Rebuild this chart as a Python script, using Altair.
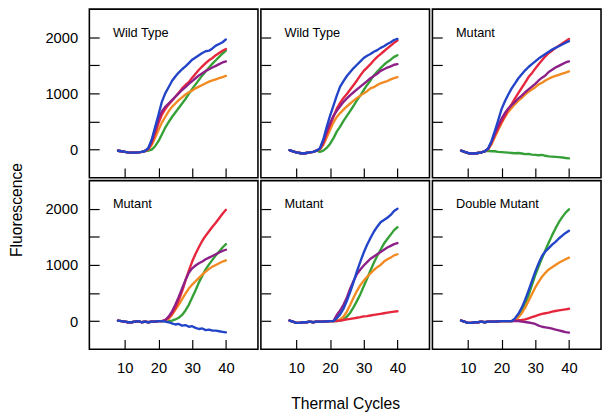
import altair as alt
import pandas as pd

cycles = list(range(8, 41))
panel_titles = ["Wild Type", "Wild Type", "Mutant", "Mutant", "Mutant", "Double Mutant"]
series_order = ["green", "orange", "red", "purple", "blue"]
series_colors = ["#35a036", "#f28a22", "#e6263c", "#8c2088", "#2244c8"]

x_ticks = [10, 20, 30, 40]
y_ticks = [0, 500, 1000, 1500, 2000]

# Panel 1 - Wild Type
p1_base = [-20, -30, -40, -50, -55, -55, -50, -40, -25]
p1_blue = p1_base + [30, 180, 400, 620, 850, 1000, 1110, 1220, 1300, 1370, 1430, 1480, 1540, 1600, 1640, 1680, 1720, 1750, 1760, 1800, 1850, 1880, 1910, 1960]
p1_purple = p1_base + [20, 160, 350, 550, 680, 760, 820, 880, 940, 1000, 1060, 1110, 1170, 1220, 1270, 1320, 1360, 1400, 1430, 1460, 1490, 1520, 1550, 1570]
p1_red = p1_base + [10, 120, 290, 470, 620, 720, 800, 870, 940, 1010, 1090, 1150, 1200, 1280, 1350, 1420, 1480, 1540, 1590, 1630, 1680, 1720, 1760, 1790]
p1_green = p1_base + [-20, 0, 60, 150, 270, 390, 490, 580, 660, 740, 820, 900, 990, 1080, 1160, 1240, 1320, 1390, 1460, 1530, 1590, 1650, 1710, 1760]
p1_orange = p1_base + [0, 80, 210, 350, 480, 580, 680, 760, 820, 880, 930, 980, 1020, 1050, 1090, 1120, 1150, 1180, 1210, 1230, 1250, 1270, 1290, 1310]

# Panel 2 - Wild Type
p2_base = [-10, -30, -50, -60, -70, -60, -50, -40, -20]
p2_blue = p2_base + [20, 180, 400, 600, 780, 960, 1120, 1220, 1310, 1380, 1450, 1510, 1570, 1630, 1670, 1700, 1740, 1770, 1810, 1840, 1880, 1910, 1950, 1970]
p2_red = p2_base + [10, 110, 280, 430, 580, 730, 830, 920, 990, 1070, 1150, 1230, 1320, 1400, 1460, 1520, 1590, 1650, 1700, 1750, 1800, 1850, 1900, 1940]
p2_green = p2_base + [-40, -20, 30, 100, 200, 320, 410, 510, 600, 690, 780, 880, 960, 1060, 1150, 1230, 1320, 1390, 1450, 1510, 1560, 1600, 1650, 1680]
p2_purple = p2_base + [20, 150, 330, 470, 600, 690, 770, 850, 910, 970, 1020, 1070, 1120, 1170, 1220, 1270, 1310, 1350, 1400, 1430, 1460, 1480, 1510, 1520]
p2_orange = p2_base + [0, 80, 210, 350, 480, 580, 650, 710, 770, 820, 870, 920, 960, 1000, 1040, 1090, 1110, 1150, 1180, 1200, 1220, 1250, 1270, 1290]

# Panel 3 - Mutant
p3_base = [-20, -40, -60, -70, -70, -60, -50, -30]
p3_blue = p3_base + [20, 150, 330, 520, 720, 860, 980, 1090, 1180, 1270, 1340, 1410, 1470, 1520, 1570, 1620, 1660, 1700, 1740, 1780, 1810, 1840, 1870, 1900, 1930]
p3_red = p3_base + [10, 120, 260, 380, 490, 600, 720, 810, 910, 1010, 1100, 1190, 1290, 1360, 1440, 1520, 1590, 1660, 1720, 1760, 1810, 1850, 1890, 1930, 1970]
p3_purple = p3_base + [10, 130, 290, 430, 550, 650, 730, 790, 850, 910, 960, 1020, 1070, 1120, 1170, 1230, 1280, 1320, 1380, 1420, 1460, 1490, 1520, 1550, 1570]
p3_orange = p3_base + [0, 90, 220, 350, 470, 580, 670, 740, 810, 870, 920, 980, 1030, 1070, 1110, 1160, 1190, 1230, 1260, 1290, 1310, 1330, 1350, 1370, 1390]
p3_green = p3_base + [-20, -30, -30, -40, -45, -50, -55, -60, -65, -60, -70, -80, -75, -90, -95, -100, -95, -110, -120, -125, -130, -135, -140, -150, -155]

# Panel 4 - Mutant
p4_base = [10, 0, -10, -20, -20, -10, 0, -20, -10, -20, -10, -10, 0, 0]
p4_red = p4_base + [20, 60, 130, 230, 370, 530, 720, 900, 1060, 1200, 1320, 1430, 1520, 1600, 1680, 1750, 1830, 1910, 1980]
p4_purple = p4_base + [20, 80, 170, 290, 430, 580, 730, 860, 940, 990, 1030, 1060, 1100, 1130, 1160, 1190, 1220, 1250, 1270]
p4_orange = p4_base + [10, 40, 110, 200, 290, 390, 490, 580, 650, 710, 770, 830, 880, 930, 970, 1000, 1030, 1060, 1080]
p4_green = p4_base + [0, 0, 10, 30, 60, 110, 190, 290, 420, 550, 690, 810, 920, 1010, 1090, 1170, 1240, 1310, 1370]
p4_blue = p4_base + [-10, -20, -40, -60, -50, -80, -70, -100, -90, -120, -140, -130, -160, -150, -170, -170, -180, -190, -200]

# Panel 5 - Mutant
p5_base = [10, -10, -30, -30, -20, -20, -10, -20, -10, -10, -10, -5, 0, 0]
p5_red = p5_base + [0, 10, 20, 30, 40, 50, 60, 70, 85, 90, 100, 110, 120, 130, 140, 150, 160, 170, 175]
p5_blue = p5_base + [50, 120, 220, 360, 520, 700, 890, 1060, 1220, 1360, 1480, 1590, 1680, 1760, 1800, 1840, 1890, 1960, 2000]
p5_purple = p5_base + [110, 190, 290, 420, 580, 720, 840, 920, 990, 1050, 1110, 1150, 1190, 1230, 1270, 1310, 1340, 1370, 1390]
p5_green = p5_base + [0, 10, 25, 80, 150, 250, 360, 480, 620, 760, 900, 1040, 1160, 1270, 1380, 1460, 1540, 1620, 1670]
p5_orange = p5_base + [10, 30, 80, 170, 290, 420, 540, 640, 720, 790, 850, 910, 960, 1000, 1060, 1100, 1130, 1170, 1190]

# Panel 6 - Double Mutant
p6_base = [10, -10, -30, -30, -20, -20, -10, -20, -10, -10, -10, -5, 0, 0, 0, 0]
p6_blue = p6_base + [50, 130, 240, 380, 540, 710, 880, 1030, 1160, 1240, 1300, 1360, 1410, 1470, 1520, 1570, 1610]
p6_green = p6_base + [30, 80, 170, 300, 460, 640, 820, 970, 1120, 1260, 1400, 1530, 1650, 1760, 1850, 1930, 1990]
p6_orange = p6_base + [30, 70, 140, 240, 360, 480, 600, 700, 790, 860, 920, 960, 1000, 1040, 1070, 1100, 1130]
p6_red = p6_base + [10, 15, 20, 30, 50, 70, 90, 110, 130, 140, 150, 170, 180, 190, 200, 210, 220]
p6_purple = p6_base + [0, 0, -10, -15, -25, -35, -50, -80, -100, -110, -120, -135, -150, -165, -180, -195, -205]

panel_series = [
    {"green": p1_green, "orange": p1_orange, "red": p1_red, "purple": p1_purple, "blue": p1_blue},
    {"green": p2_green, "orange": p2_orange, "red": p2_red, "purple": p2_purple, "blue": p2_blue},
    {"green": p3_green, "orange": p3_orange, "red": p3_red, "purple": p3_purple, "blue": p3_blue},
    {"green": p4_green, "orange": p4_orange, "red": p4_red, "purple": p4_purple, "blue": p4_blue},
    {"green": p5_green, "orange": p5_orange, "red": p5_red, "purple": p5_purple, "blue": p5_blue},
    {"green": p6_green, "orange": p6_orange, "red": p6_red, "purple": p6_purple, "blue": p6_blue},
]

FONT = "Liberation Sans"
PW, PH = 172, 172


def make_panel(i):
    rows = []
    for k, name in enumerate(series_order):
        for c, v in zip(cycles, panel_series[i][name]):
            rows.append({"cycle": c, "value": v, "series": name, "order": k})
    df = pd.DataFrame(rows)
    left_col = i % 3 == 0
    bottom_row = i >= 3
    x_kwargs = dict(values=x_ticks, tickSize=10, offset=-10, domain=False, grid=False,
                    labels=bottom_row, labelPadding=12, labelFontSize=15)
    if i == 4:
        x_kwargs.update(titleFontSize=16, titlePadding=20,
                        titleFontWeight="normal", titleFont=FONT, titleColor="black")
    x_enc = alt.X("cycle:Q", scale=alt.Scale(domain=[-0.5, 49.5], nice=False, zero=False),
                  axis=alt.Axis(**x_kwargs), title=("Thermal Cycles" if i == 4 else None))
    y_enc = alt.Y("value:Q", scale=alt.Scale(domain=[-500, 2500], nice=False),
                  axis=alt.Axis(values=y_ticks, tickSize=10, offset=-10, domain=False, grid=False,
                                labels=left_col, labelPadding=12, labelFontSize=15,
                                labelExpr="datum.value % 1000 === 0 ? datum.label : ''",
                                format="d"),
                  title=None)
    lines = alt.Chart(df).mark_line(strokeWidth=2.4, strokeJoin="round", strokeCap="round").encode(
        x=x_enc, y=y_enc,
        color=alt.Color("series:N", scale=alt.Scale(domain=series_order, range=series_colors), legend=None),
        order="order:Q",
    )
    label = alt.Chart(pd.DataFrame({"label": [panel_titles[i]]})).mark_text(
        align="left", baseline="alphabetic", fontSize=13, font=FONT, color="black"
    ).encode(x=alt.value(24), y=alt.value(28), text="label:N")
    return alt.layer(lines, label).properties(width=PW, height=PH)


row1 = alt.hconcat(*[make_panel(i) for i in range(3)], spacing=0)
row2 = alt.hconcat(*[make_panel(i) for i in range(3, 6)], spacing=0)
chart = alt.vconcat(row1, row2, spacing=0).properties(
    title=alt.TitleParams("Fluorescence", orient="left", anchor="middle", fontSize=16,
                          fontWeight="normal", font=FONT, color="black", offset=20),
    padding={"left": 0, "top": -4, "right": 0, "bottom": 0},
    background="white",
).configure_view(stroke="black", strokeWidth=1.6).configure_axis(
    labelFont=FONT, labelColor="black", tickColor="black", tickWidth=1.2,
)

chart.save("out.html", embed_options={"renderer": "svg", "actions": False})
